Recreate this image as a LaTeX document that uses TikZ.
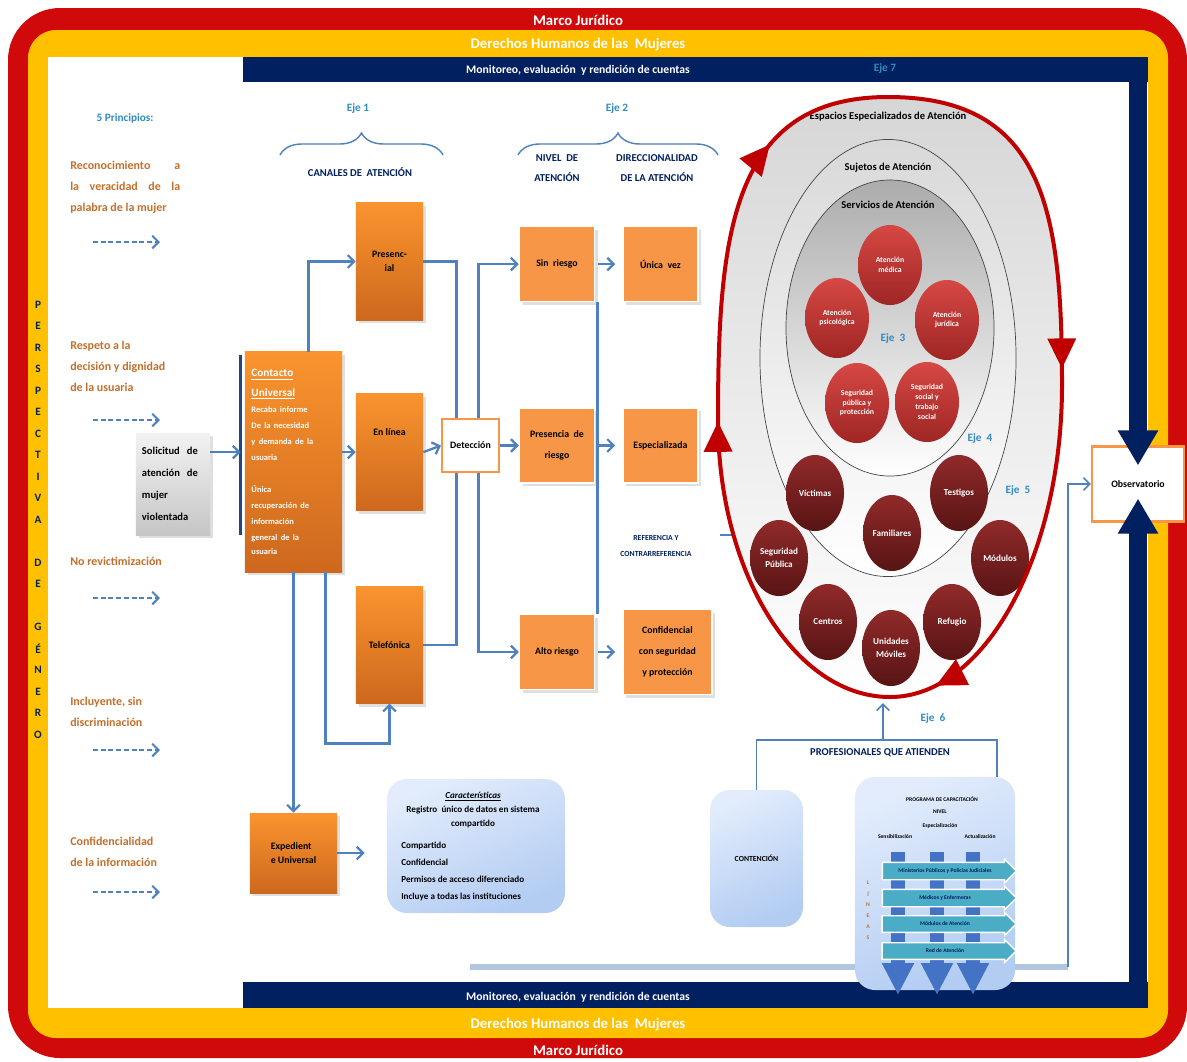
\documentclass[tikz,border=0pt]{standalone}
\usepackage{fontspec}
\setmainfont{Carlito}
\usetikzlibrary{arrows.meta,positioning,calc,shapes.geometric,shapes.arrows,decorations.pathreplacing,decorations.markings,shadows}

\definecolor{marcoRed}{RGB}{208,10,10}
\definecolor{ddhhYellow}{RGB}{255,192,0}
\definecolor{monNavy}{RGB}{0,32,96}
\definecolor{lineBlue}{RGB}{79,129,189}
\definecolor{ejeBlue}{RGB}{49,140,195}
\definecolor{princOrange}{RGB}{196,112,44}
\definecolor{chanTop}{RGB}{250,148,46}
\definecolor{chanBot}{RGB}{205,104,30}
\definecolor{levelOrange}{RGB}{247,150,70}
\definecolor{ringRed}{RGB}{192,0,0}
\definecolor{servTop}{RGB}{214,72,68}
\definecolor{servBot}{RGB}{158,38,36}
\definecolor{sujTop}{RGB}{145,42,42}
\definecolor{sujBot}{RGB}{88,20,20}
\definecolor{paleBlue}{RGB}{226,236,252}
\definecolor{paleBlue2}{RGB}{178,204,242}
\definecolor{tealArrow}{RGB}{75,172,198}
\definecolor{capBlue}{RGB}{68,114,196}

\begin{document}
\begin{tikzpicture}[x=0.025cm, y=-0.025cm, >={Straight Barb[length=4.5pt,width=9pt]},
    band/.style={font=\fontsize{10.5}{12}\selectfont\bfseries, text=white},
    monitext/.style={font=\fontsize{8.3}{10}\selectfont\bfseries, text=white},
    eje/.style={font=\fontsize{8}{10}\selectfont\bfseries, text=ejeBlue},
    princ/.style={font=\fontsize{8.5}{15}\selectfont\bfseries, text=princOrange, align=justify, text width=2.75cm, anchor=north west, inner sep=0pt},
    ln/.style={draw=lineBlue, line width=1.6pt},
    dashln/.style={draw=lineBlue, line width=1.4pt, dash pattern=on 3.5pt off 2pt},
    chan/.style={top color=chanTop, bottom color=chanBot, minimum width=1.675cm, minimum height=2.925cm, font=\fontsize{7}{10}\selectfont\bfseries, align=center, drop shadow={opacity=0.25}},
    level/.style={fill=levelOrange, draw=white, line width=1pt, minimum width=1.875cm, minimum height=1.875cm, font=\fontsize{7}{15}\selectfont\bfseries, align=center, drop shadow={opacity=0.25}},
    head/.style={font=\fontsize{7.5}{14}\selectfont\bfseries, text=monNavy, align=center},
    serv/.style={ellipse, top color=servTop, bottom color=servBot, minimum width=1.6cm, minimum height=2cm, inner sep=0pt, text=white, font=\fontsize{5.5}{7}\selectfont\bfseries, align=center},
    suj/.style={ellipse, top color=sujTop, bottom color=sujBot, minimum width=1.45cm, minimum height=1.9cm, inner sep=0pt, text=white, font=\fontsize{6.5}{9}\selectfont\bfseries, align=center},
    pale/.style={rounded corners=0.5cm, top color=paleBlue, bottom color=paleBlue2, shading angle=25},
    tiny/.style={font=\fontsize{4}{5}\selectfont\bfseries, inner sep=0.5pt},
    capArrow/.style={single arrow, single arrow head extend=0.08cm, fill=tealArrow, draw=white, line width=1pt, minimum height=3.35cm, inner ysep=0.14cm, inner xsep=1pt, font=\fontsize{4}{5}\selectfont\bfseries, text=monNavy},
    navyarrow/.style={draw=monNavy, line width=0.45cm, -{Triangle[length=0.875cm,width=0.95cm]}}]

    % Frame
    \useasboundingbox (0,0) rectangle (1187,1061);
    \fill[marcoRed, rounded corners=1.3cm] (8,8) rectangle (1187,1058);
    \fill[ddhhYellow, rounded corners=0.7cm] (28,30) rectangle (1168,1038);
    \fill[white] (48,57) rectangle (1148,1008);
    \fill[monNavy] (243,57) rectangle (1148,82);
    \fill[monNavy] (243,982) rectangle (1148,1008);
    \node[band] (marco1) at (578,20) {Marco Jurídico};
    \node[band] (ddhh1) at (578,45) {Derechos Humanos de las\ \ Mujeres};
    \node[monitext] (moni1) at (578,70) {Monitoreo, evaluación\ \ y rendición de cuentas};
    \node[eje] (eje7) at (885,68) {Eje 7};
    \node[monitext] (moni2) at (578,997) {Monitoreo, evaluación\ \ y rendición de cuentas};
    \node[band] (ddhh2) at (578,1025) {Derechos Humanos de las\ \ Mujeres};
    \node[band] (marco2) at (578,1050) {Marco Jurídico};
    \foreach \l [count=\i] in {P,E,R,S,P,E,C,T,I,V,A,,D,E,,G,É,N,E,R,O}
      \node[font=\fontsize{8}{9}\selectfont\bfseries, text=monNavy, inner sep=0pt] (pg\i) at (38,{283+21.5*\i}) {\l};

    % Principles
    \node[eje] (princT) at (125,118) {5 Principios:};
    \node[princ] (p1) at (70,161) {Reconocimiento\ \ \ a\linebreak la veracidad de la\linebreak palabra de la mujer};
    \node[princ] (p2) at (70,341) {Respeto a la\\decisión y dignidad\\de la usuaria};
    \node[princ] (p3) at (70,557) {No revictimización};
    \node[princ] (p4) at (70,697) {Incluyente, sin\\discriminación};
    \node[princ] (p5) at (70,837) {Confidencialidad\\de la información};
    \foreach \y [count=\i] in {242,420,598,750,892} {
      \coordinate (pa\i) at (93,\y);
      \coordinate (pb\i) at (160,\y);
      \draw[dashln,->] (pa\i) -- (pb\i);
    }

    % Eje 1: channels
    \node[top color=gray!10, bottom color=gray!45, minimum width=1.85cm, minimum height=2.55cm, drop shadow={opacity=0.25}, font=\fontsize{7.5}{15.5}\selectfont\bfseries, align=left, text width=1.55cm] (solic) at (173,484) {Solicitud\ \ de\\atención\ \ de\\mujer\\violentada};
    \node[chan, minimum width=2.425cm, minimum height=5.5cm, text=white, align=left, text width=2.1cm] (contact) at (293.5,462)
      {\fontsize{8}{14}\selectfont\underline{Contacto}\\\underline{Universal}\\\fontsize{6}{11.3}\selectfont Recaba informe\\De la necesidad\\y demanda de la\\usuaria\\[12pt]Única\\recuperación de\\información\\general de la\\usuaria};
    \draw[draw=monNavy!60!lineBlue, line width=2.5pt] ([xshift=-0.1cm,yshift=-0.08cm]contact.north west) -- ([xshift=-0.1cm]contact.west |- solic.south);
    \node[eje] (eje1) at (358,108) {Eje 1};
    \draw[ln, line width=1pt, decorate, decoration={brace, amplitude=0.55cm}] (280,155) -- (443,155);
    \node[head] (canT) at (360,172) {CANALES DE\ \ ATENCIÓN};
    \node[chan] (pres) at (389.5,261.5) {Presenc-\\ial};
    \node[chan, below=1.825cm of pres] (enl) {En línea\\[18pt]};
    \node[chan, below=1.875cm of enl] (tel) {Telefónica};
    \node[chan, minimum width=2.175cm, minimum height=2cm, align=left] (exped) at (293.5,853) {Expedient\\e Universal};
    \draw[ln,->] (solic.east |- enl) -- ([xshift=-0.1cm]contact.west |- enl);
    \draw[ln,->] (contact.east |- enl) -- (enl.west);
    \draw[ln,->] ([xshift=0.375cm]contact.north) |- (pres.west);
    \draw[ln,->] ([xshift=0.8cm]contact.south) |- ([yshift=-1cm]tel.south) -- (tel.south);
    \draw[ln,->] (contact.south) -- (exped.north);

    % Eje 2: levels
    \node[draw=levelOrange, line width=1.5pt, fill=white, minimum width=1.425cm, minimum height=1.325cm, font=\fontsize{7}{8}\selectfont\bfseries] (det) at (470.5,445.5) {Detección};
    \node[level] (presr) at (557,445.5) {Presencia\ \ de\\riesgo};
    \node[level, above=2.625cm of presr] (sinr) {Sin\ \ riesgo};
    \node[level, below=3.25cm of presr] (alto) {Alto riesgo};
    \node[level, right=0.675cm of sinr] (uni) {Única\ \ vez};
    \node[level, right=0.675cm of presr] (espz) {Especializada};
    \node[level, right=0.675cm of alto, minimum width=2.225cm, minimum height=2.125cm] (conf) {Confidencial\\con seguridad\\y protección};
    \node[eje] (eje2) at (617,108) {Eje 2};
    \draw[ln, line width=1pt, decorate, decoration={brace, amplitude=0.55cm}] (518,155) -- (718,155);
    \node[head] (nivT) at (557,168) {NIVEL\ \ DE\\ATENCIÓN};
    \node[head] (dirT) at (657,168) {DIRECCIONALIDAD\\DE LA ATENCIÓN};
    \draw[ln,->] (enl.east) -- (det.west);
    \draw[ln] (pres.east) -| ([xshift=-0.35cm]det.north);
    \draw[ln] (tel.east) -| ([xshift=-0.35cm]det.south);
    \draw[ln,->] ([xshift=0.2cm]det.north) |- (sinr.west);
    \draw[ln,->] ([xshift=0.2cm]det.south) |- (alto.west);
    \draw[ln,->] (det.east) -- (presr.west);
    \draw[ln] ([xshift=0.06cm]sinr.south east) -- ([xshift=0.06cm]sinr.south east |- alto.north);
    \draw[ln,->,shorten <=2pt,shorten >=5pt] (sinr.east) -- (uni.west);
    \draw[ln,->,shorten <=2pt,shorten >=5pt] (presr.east) -- (espz.west);
    \draw[ln,->,shorten <=2pt,shorten >=5pt] (alto.east) -- (conf.west);
    \node[head, font=\fontsize{5.5}{11}\selectfont\bfseries] (refer) at (656,546) {REFERENCIA Y\\CONTRARREFERENCIA};
    \coordinate (refStart) at (720,535);
    \coordinate (refTip) at (750,535);
    \draw[ln,->] (refStart) -- (refTip);

    % Espacios especializados
    \coordinate (eggT) at (888,97);
    \coordinate (eggR) at (1062,385);
    \coordinate (eggB) at (890,697);
    \coordinate (eggL) at (718,420);
    \shade[top color=gray!32, bottom color=white] (eggT) .. controls (1045,97) and (1062,212) .. (eggR)
      .. controls (1062,555) and (985,697) .. (eggB) .. controls (795,697) and (718,573) .. (eggL)
      .. controls (718,235) and (731,97) .. (eggT) -- cycle;
    \node[ellipse, draw=gray!55!black, line width=0.5pt, minimum width=6.4cm, minimum height=10.925cm, inner sep=0pt, top color=gray!30, bottom color=white] (suj) at (888,358) {};
    \node[ellipse, draw=gray!55!black, line width=0.5pt, minimum width=5.2cm, minimum height=7.4cm, inner sep=0pt, top color=gray!65, bottom color=white] (servz) at (890,328) {};
    \node[font=\fontsize{7.5}{9}\selectfont\bfseries] (espT) at (888,117) {Espacios Especializados de Atención};
    \node[font=\fontsize{7.5}{9}\selectfont\bfseries] (sujT) at (888,168) {Sujetos de Atención};
    \node[font=\fontsize{7.5}{9}\selectfont\bfseries] (servT) at (888,205) {Servicios de Atención};
    \node[serv] (med) at (890,265) {Atención\\médica};
    \node[serv] (psi) at (837,318) {Atención\\psicológica};
    \node[serv] (jur) at (947,320) {Atención\\jurídica};
    \node[serv] (segp) at (857,403) {Seguridad\\pública y\\protección};
    \node[serv] (segs) at (927,402) {Seguridad\\social y\\trabajo\\social};
    \node[eje] (eje3) at (893,338) {Eje\ \ 3};
    \node[eje] (eje4) at (980,438) {Eje\ \ 4};
    \node[suj] (vic) at (815,493) {Víctimas};
    \node[suj] (fam) at (892,533) {Familiares};
    \node[suj] (tes) at (959,493) {Testigos};
    \node[suj] (segpub) at (779,558) {Seguridad\\Pública};
    \node[suj] (mod) at (1000,558) {Módulos};
    \node[suj] (cen) at (828,622) {Centros};
    \node[suj] (umov) at (891,648) {Unidades\\Móviles};
    \node[suj] (refu) at (952,622) {Refugio};
    \node[eje] (eje5) at (1018,490) {Eje\ \ 5};
    \node[eje] (eje6) at (933,718) {Eje\ \ 6};
    \draw[ringRed, line width=0.1cm, postaction={decorate}, decoration={markings,
        mark=at position 0.24 with {\arrow{Triangle[length=0.75cm,width=0.7cm]}},
        mark=at position 0.47 with {\arrow{Triangle[length=0.75cm,width=0.7cm]}},
        mark=at position 0.73 with {\arrow{Triangle[length=0.75cm,width=0.7cm]}},
        mark=at position 0.915 with {\arrow{Triangle[length=0.75cm,width=0.7cm]}}}]
      (eggT) .. controls (1045,97) and (1062,212) .. (eggR)
      .. controls (1062,555) and (985,697) .. (eggB) .. controls (795,697) and (718,573) .. (eggL)
      .. controls (718,235) and (731,97) .. (eggT) -- cycle;

    % Observatorio
    \node[draw=levelOrange, line width=1.5pt, fill=white, minimum width=2.3cm, minimum height=1.875cm, font=\fontsize{7}{8}\selectfont\bfseries] (obs) at (1138,484) {Observatorio};
    \coordinate (navyT) at (1138,57);
    \coordinate (navyB) at (1138,1008);
    \draw[navyarrow] (navyT) -- ([yshift=-0.5cm]obs.north);
    \draw[navyarrow] (navyB) -- ([yshift=0.6cm]obs.south);
    \coordinate (monS) at (470,967);
    \coordinate (monC) at (1068,967);
    \draw[draw=lineBlue!45, line width=4pt] (monS) -- (monC);
    \draw[ln, line width=1.2pt, ->] (monC) |- (obs.west);

    % Profesionales
    \node[pale, minimum width=2.325cm, minimum height=3.425cm, font=\fontsize{5.5}{7}\selectfont\bfseries] (cont) at (756.5,858.5) {CONTENCIÓN};
    \node[pale, minimum width=4cm, minimum height=5.325cm] (capac) at (935,883.5) {};
    \draw[ln, line width=1.2pt] (cont.north) |- ($(capac.north)+(62,-37)$) -- ($(capac.north)+(62,0)$);
    \node[head] (prof) at (880,753) {PROFESIONALES QUE ATIENDEN};
    \coordinate (profC) at (883,740);
    \draw[ln, line width=1.2pt, ->, shorten >=0.15cm] (profC) -- (profC |- eggB);
    \node[tiny] (progT) at (942,799) {PROGRAMA DE CAPACITACIÓN};
    \node[tiny] (nivelT) at (940,812) {NIVEL};
    \node[tiny] (espcT) at (940,826) {Especialización};
    \node[tiny] (sensT) at (895,837) {Sensibilización};
    \node[tiny] (actT) at (980,837) {Actualización};
    \foreach \x [count=\i] in {898,937,973} {
      \coordinate (vTop\i) at (\x,852);
      \coordinate (vBot\i) at (\x,995);
      \draw[draw=capBlue, line width=0.33cm, -{Triangle[length=0.8cm,width=0.75cm]}] (vTop\i) -- (vBot\i);
    }
    \foreach \y/\txt [count=\i] in {871/{Ministerios Públicos y Policías Judiciales}, 898/{Médicos y Enfermeras}, 924/{Módulos de Atención}, 951/{Red de Atención}}
      \node[capArrow] (lin\i) at (945,\y) {\txt};
    \foreach \l [count=\i] in {L,Í,N,E,A,S}
      \node[tiny, text=princOrange] (ls\i) at (868,{872+11*\i}) {\l};

    % Expediente
    \node[pale, minimum width=4.45cm, minimum height=3.35cm] (carac) at (476,846) {};
    \node[font=\fontsize{6.5}{10}\selectfont\bfseries, align=center] (caracT) at (473,810) {\underline{\textit{Características}}\\Registro\ \ único de datos en sistema\\compartido};
    \node[font=\fontsize{6.5}{12}\selectfont\bfseries, align=left, anchor=north west, inner sep=0pt] (caracL) at (401,842) {Compartido\\Confidencial\\Permisos de acceso diferenciado\\Incluye a todas las instituciones};
    \draw[ln,->,shorten >=0.55cm] (exped.east) -- (exped.east -| carac.west);
\end{tikzpicture}
\end{document}
